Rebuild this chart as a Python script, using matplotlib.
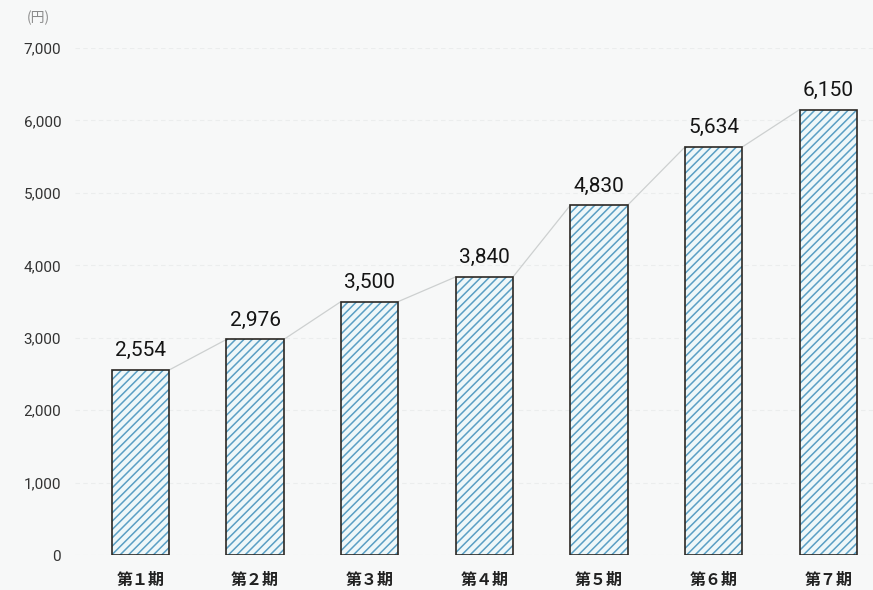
import matplotlib
matplotlib.use("Agg")
import matplotlib.pyplot as plt

periods = ["第１期", "第２期", "第３期", "第４期", "第５期", "第６期", "第７期"]
values = [2554, 2976, 3500, 3840, 4830, 5634, 6150]
yticks = [0, 1000, 2000, 3000, 4000, 5000, 6000, 7000]

plt.rcParams['font.family'] = ['Roboto', 'Noto Sans CJK JP', 'DejaVu Sans']
plt.rcParams['hatch.linewidth'] = 1.1

fig = plt.figure(figsize=(8.73, 5.90), dpi=100, facecolor='#f7f8f8')
ax = fig.add_axes([0.086, 0.0593, 0.914, 0.8593])
ax.set_facecolor('#f7f8f8')

x = list(range(len(values)))
w = 0.5

# hatched fill, then dark outline on top
ax.bar(x, values, width=w, color='#eef7f9', edgecolor='#5a9fc4',
       linewidth=0, hatch='////', zorder=3)
ax.bar(x, values, width=w, fill=False, edgecolor='#2b2824',
       linewidth=1.2, zorder=4)

# thin connector from top-right of one bar to top-left of next
for i in range(len(values) - 1):
    ax.plot([x[i] + w / 2, x[i + 1] - w / 2], [values[i], values[i + 1]],
            color='#cdd0d0', linewidth=0.9, zorder=2)

for xi, v in zip(x, values):
    ax.text(xi, v + 190, f"{v:,}", ha='center', va='baseline',
            fontsize=15, color='#151515')

ax.set_xlim(-0.57, 6.39)
ax.set_ylim(0, 7000)
ax.set_yticks(yticks)
ax.set_yticklabels([f"{t:,}" for t in yticks])
ax.set_xticks(x)
ax.set_xticklabels(periods, fontfamily=['Noto Sans CJK JP'], fontweight='bold')
ax.tick_params(axis='y', length=0, pad=10, labelsize=11, labelcolor='#333333')
ax.tick_params(axis='x', length=0, pad=12, labelsize=11.5, labelcolor='#222222')
ax.yaxis.grid(True, color='#ebeded', linewidth=0.8, linestyle=(0, (4, 3)), zorder=0)
for s in ax.spines.values():
    s.set_visible(False)

fig.text(0.031, 0.969, "(円)", fontsize=10, color='#8a8a8a',
         fontfamily=['Noto Sans CJK JP'], ha='left', va='center')

fig.savefig("out.png", dpi=100, facecolor=fig.get_facecolor())
